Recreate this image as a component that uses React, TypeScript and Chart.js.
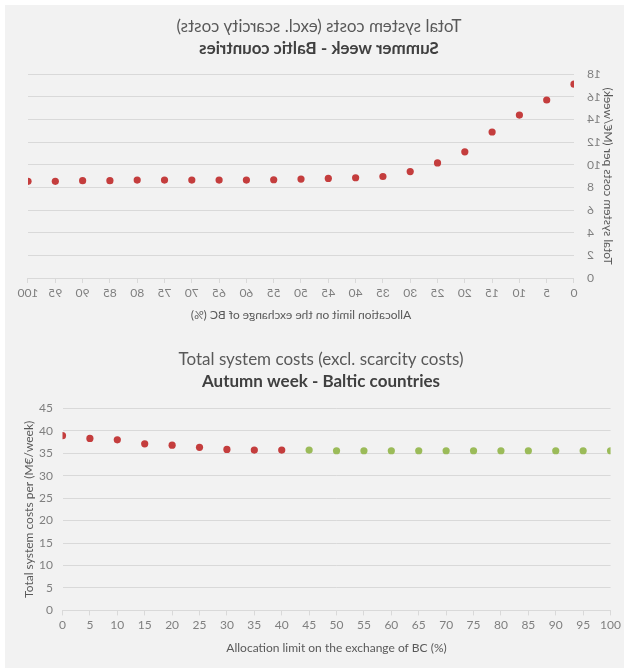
import React, { useEffect, useRef } from "react";
import { Chart, registerables } from "chart.js";

Chart.register(...registerables);

const allocationLimits = [0, 5, 10, 15, 20, 25, 30, 35, 40, 45, 50, 55, 60, 65, 70, 75, 80, 85, 90, 95, 100];
const summerCosts = [17.13, 15.73, 14.4, 12.9, 11.15, 10.17, 9.4, 8.97, 8.86, 8.8, 8.74, 8.68, 8.65, 8.65, 8.65, 8.65, 8.65, 8.6, 8.6, 8.54, 8.54];
const autumnLimitsRed = [0, 5, 10, 15, 20, 25, 30, 35, 40];
const autumnCostsRed = [38.9, 38.3, 37.97, 37.1, 36.8, 36.3, 35.85, 35.7, 35.7];
const autumnLimitsGreen = [45, 50, 55, 60, 65, 70, 75, 80, 85, 90, 95, 100];
const autumnCostsGreen = [35.7, 35.55, 35.55, 35.55, 35.55, 35.55, 35.55, 35.55, 35.55, 35.55, 35.55, 35.55];

const titleText = "Total system costs (excl. scarcity costs)";
const summerSubtitle = "Summer week - Baltic countries";
const autumnSubtitle = "Autumn week - Baltic countries";
const xTitle = "Allocation limit on the exchange of BC (%)";
const yTitle = "Total system costs per (M€/week)";

const FONT = 'Lato, "Open Sans", sans-serif';
const RED = "#c43d3d";
const GREEN = "#9bbb59";
const GRID = "#d9d9d9";

type Cfg = {
  datasets: { xs: number[]; ys: number[]; color: string }[];
  subtitle: string;
  yMax: number;
  yStep: number;
  yWidth: number;
  yTitlePad: number;
  yTickPad: number;
  padLeft: number;
  padRight: number;
  padBottom: number;
  titlePad: { top: number; bottom: number };
  subPadBottom: number;
};

function makeConfig(c: Cfg): any {
  return {
    type: "scatter",
    data: {
      datasets: c.datasets.map((d) => ({
        data: d.xs.map((x, i) => ({ x, y: d.ys[i] })),
        backgroundColor: d.color,
        borderColor: d.color,
        pointRadius: 3.6,
        pointBorderWidth: 0,
      })),
    },
    options: {
      animation: false,
      responsive: true,
      maintainAspectRatio: false,
      layout: { padding: { top: 0, left: c.padLeft, right: c.padRight, bottom: c.padBottom } },
      plugins: {
        legend: { display: false },
        tooltip: { enabled: false },
        title: {
          display: true,
          text: titleText,
          color: "#595959",
          font: { family: FONT, size: 17, weight: "normal" },
          padding: c.titlePad,
        },
        subtitle: {
          display: true,
          text: c.subtitle,
          color: "#404040",
          font: { family: FONT, size: 17, weight: "bold" },
          padding: { top: 0, bottom: c.subPadBottom },
        },
      },
      scales: {
        x: {
          type: "linear",
          min: 0,
          max: 100,
          ticks: { stepSize: 5, color: "#7f7f7f", font: { family: FONT, size: 12 }, padding: 3, maxRotation: 0 },
          grid: { drawOnChartArea: false, color: GRID, tickLength: 5 },
          border: { color: GRID },
          title: {
            display: true,
            text: xTitle,
            color: "#595959",
            font: { family: FONT, size: 12 },
            padding: { top: 5, bottom: 0 },
          },
        },
        y: {
          min: 0,
          max: c.yMax,
          ticks: { stepSize: c.yStep, color: "#7f7f7f", font: { family: FONT, size: 12 }, padding: c.yTickPad },
          grid: { color: GRID, drawTicks: false },
          border: { display: false },
          title: {
            display: true,
            text: yTitle,
            color: "#595959",
            font: { family: FONT, size: 12 },
            padding: { top: c.yTitlePad, bottom: 0 },
          },
          afterFit: (scale: any) => {
            scale.width = c.yWidth;
          },
        },
      },
    },
  };
}

function ChartBox({ cfg, height, flip }: { cfg: Cfg; height: number; flip?: boolean }) {
  const ref = useRef<HTMLCanvasElement | null>(null);
  useEffect(() => {
    if (!ref.current) return;
    const chart = new Chart(ref.current, makeConfig(cfg));
    return () => chart.destroy();
  }, []);
  return (
    <div style={{ position: "relative", width: 619, height, transform: flip ? "scaleX(-1)" : undefined }}>
      <canvas ref={ref} />
    </div>
  );
}

export default function App() {
  const summer: Cfg = {
    datasets: [{ xs: allocationLimits, ys: summerCosts, color: RED }],
    subtitle: summerSubtitle,
    yMax: 18,
    yStep: 2,
    yWidth: 36,
    yTitlePad: -5.2,
    yTickPad: 13,
    padLeft: 14,
    padRight: 23,
    padBottom: 14.2,
    titlePad: { top: 11.8, bottom: 1.6 },
    subPadBottom: 15.1,
  };
  const autumn: Cfg = {
    datasets: [
      { xs: autumnLimitsRed, ys: autumnCostsRed, color: RED },
      { xs: autumnLimitsGreen, ys: autumnCostsGreen, color: GREEN },
    ],
    subtitle: autumnSubtitle,
    yMax: 45,
    yStep: 5,
    yWidth: 32.1,
    yTitlePad: -8.6,
    yTickPad: 9.5,
    padLeft: 25.4,
    padRight: 12.4,
    padBottom: 12.8,
    titlePad: { top: 12.8, bottom: 1.3 },
    subPadBottom: 16.4,
  };
  return (
    <div
      style={{
        position: "absolute",
        left: 5,
        top: 5,
        width: 619,
        height: 663,
        background: "#f2f2f2",
        overflow: "hidden",
      }}
    >
      <ChartBox cfg={summer} height={332} flip />
      <ChartBox cfg={autumn} height={331} />
    </div>
  );
}
